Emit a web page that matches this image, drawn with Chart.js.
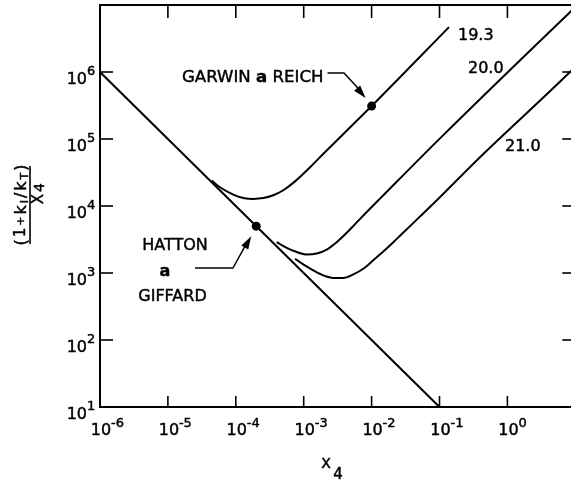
<!DOCTYPE html>
<html><head><meta charset="utf-8">
<script src="https://cdn.jsdelivr.net/npm/chart.js@4/dist/chart.umd.min.js"></script>
<style>
html,body{margin:0;padding:0;background:#fff;overflow:hidden;width:571px;height:481px}
canvas{display:block}
</style></head>
<body>
<canvas id="c" width="580" height="481" style="width:580px;height:481px"></canvas>
<script>
// ---- data ----
const xTickValues = [1e-6, 1e-5, 1e-4, 1e-3, 1e-2, 1e-1, 1e0, 1e1];
const yTickValues = [1e1, 1e2, 1e3, 1e4, 1e5, 1e6, 1e7];
const xLabelValues = [1e-6, 1e-5, 1e-4, 1e-3, 1e-2, 1e-1, 1e0];
const xLabelExps = ["-6", "-5", "-4", "-3", "-2", "-1", "0"];
const yLabelValues = [1e1, 1e2, 1e3, 1e4, 1e5, 1e6];
const yLabelExps = ["1", "2", "3", "4", "5", "6"];

// diagonal line
const diagX = [1e-6, 1e-1];
const diagY = [1e6, 1e1];

// curve labelled 19.3
const c193X = [4.42e-5, 5.85e-5, 9.18e-5, 1.288e-4, 1.811e-4, 2.54e-4, 3.565e-4, 5.0e-4, 7.01e-4, 9.86e-4, 1.239e-3, 2.0e-3, 1e-2, 1.38e-1];
const c193Y = [2.39e4, 1.905e4, 1.479e4, 1.321e4, 1.276e4, 1.312e4, 1.445e4, 1.718e4, 2.213e4, 3.02e4, 3.78e4, 6.17e4, 3.1e5, 4.68e6];

// curve labelled 20.0
const c200X = [4.0e-4, 5.62e-4, 7.89e-4, 1.107e-3, 1.552e-3, 2.183e-3, 3.06e-3, 4.30e-3, 5.70e-3, 7.94e-3, 1.33e-2, 1.016e-1, 8.65, 10];
const c200Y = [2.89e3, 2.377e3, 2.056e3, 1.892e3, 1.95e3, 2.24e3, 2.88e3, 3.98e3, 5.37e3, 7.59e3, 1.288e4, 1.023e5, 8.09e6, 9.3e6];

// curve labelled 21.0
const c210X = [7.45e-4, 9.86e-4, 1.384e-3, 1.941e-3, 2.729e-3, 3.83e-3, 5.37e-3, 7.55e-3, 1.059e-2, 1.486e-2, 2.09e-2, 2.62e-2, 5.0e-2, 8.59e-2, 3.53e-1, 8.65, 10];
const c210Y = [1.633e3, 1.343e3, 1.094e3, 920, 843, 843, 953, 1.159e3, 1.549e3, 2.09e3, 2.88e3, 3.59e3, 6.76e3, 1.148e4, 4.79e4, 1.035e6, 1.2e6];

// marked experimental points
const ptGarwin = [1e-2, 3.1e5];
const ptHatton = [2.0e-4, 5.0e3];

const curveLabels = ["19.3", "20.0", "21.0"];

// ---- build ----
const pairs = (xs, ys) => xs.map((v, i) => ({x: v, y: ys[i]}));
const FONT = '"DejaVu Sans", sans-serif';

function txt(ctx, s, x, midY, size, align, weight) {
  ctx.font = (weight || 'normal') + ' ' + size + 'px ' + FONT;
  ctx.textAlign = align || 'left';
  ctx.textBaseline = 'alphabetic';
  ctx.lineWidth = 0.45;
  ctx.lineJoin = 'round';
  ctx.fillText(s, x, midY + 0.36 * size);
  ctx.strokeText(s, x, midY + 0.36 * size);
  return ctx.measureText(s).width;
}
function seg(ctx, pts, w) {
  ctx.lineWidth = w;
  ctx.beginPath();
  ctx.moveTo(pts[0][0], pts[0][1]);
  for (let i = 1; i < pts.length; i++) ctx.lineTo(pts[i][0], pts[i][1]);
  ctx.stroke();
}
function head(ctx, x0, y0, x1, y1, len, wid) {
  const a = Math.atan2(y1 - y0, x1 - x0);
  const bx = x1 - len * Math.cos(a), by = y1 - len * Math.sin(a);
  const px = -Math.sin(a) * wid / 2, py = Math.cos(a) * wid / 2;
  ctx.beginPath();
  ctx.moveTo(x1, y1);
  ctx.lineTo(bx + px, by + py);
  ctx.lineTo(bx - px, by - py);
  ctx.closePath();
  ctx.fill();
}

const decor = {
  id: 'decor',
  afterDatasetsDraw(chart) {
    const {ctx, chartArea: a, scales: {x, y}} = chart;
    ctx.save();
    ctx.strokeStyle = '#000';
    ctx.fillStyle = '#000';
    ctx.lineCap = 'butt';
    // frame
    ctx.lineWidth = 2;
    ctx.strokeRect(a.left, a.top, a.right - a.left, a.bottom - a.top);
    // inward ticks
    xTickValues.forEach(v => {
      const px = x.getPixelForValue(v);
      seg(ctx, [[px, a.bottom], [px, a.bottom - 11]], 1.6);
      seg(ctx, [[px, a.top], [px, a.top + 13]], 1.6);
    });
    yTickValues.forEach(v => {
      const py = y.getPixelForValue(v);
      seg(ctx, [[a.left, py], [a.left + 13, py]], 1.6);
      seg(ctx, [[a.right, py], [a.right - 13, py]], 1.6);
    });
    // tick labels
    xLabelValues.forEach((v, i) => {
      const px = x.getPixelForValue(v);
      txt(ctx, "10", px + 1, a.bottom + 22, 16, 'center');
      txt(ctx, xLabelExps[i], px + 11, a.bottom + 15, 13, 'left');
    });
    yLabelValues.forEach((v, i) => {
      const py = y.getPixelForValue(v);
      txt(ctx, "10", a.left - 13, py + 6, 16, 'right');
      txt(ctx, yLabelExps[i], a.left - 13, py - 1.5, 13, 'left');
    });
    // x title
    txt(ctx, "X", 326, 463, 14, 'center');
    txt(ctx, "4", 338, 474, 15, 'center');
    // y title (rotated fraction)
    ctx.save();
    ctx.translate(30, 205);
    ctx.rotate(-Math.PI / 2);
    const runs = [["(", 16, 0], ["1", 15, 0], ["+", 11, 0], ["k", 16, 0], ["I", 11, 4], ["/", 16, 0], ["k", 16, 0], ["T", 11, 4], [")", 16, 0]];
    const gap = 2;
    let total = 0;
    runs.forEach(r => { ctx.font = r[1] + 'px ' + FONT; total += ctx.measureText(r[0]).width + gap; });
    total -= gap;
    let cx = -total / 2;
    runs.forEach(r => { cx += txt(ctx, r[0], cx, -10 + r[2], r[1], 'left') + gap; });
    seg(ctx, [[-39, 0], [39, 0]], 1.6);
    txt(ctx, "X", 6, 8, 15, 'center');
    txt(ctx, "4", 17.5, 9, 14, 'center');
    ctx.restore();
    // curve labels
    txt(ctx, curveLabels[0], 458, 34, 16, 'left');
    txt(ctx, curveLabels[1], 468, 67.5, 16, 'left');
    txt(ctx, curveLabels[2], 505, 145, 16, 'left');
    // GARWIN & REICH annotation
    let gx = 182;
    gx += txt(ctx, "GARWIN ", gx, 76, 16.6, 'left');
    gx += txt(ctx, "a", gx, 76, 16.6, 'left', 'bold');
    gx += txt(ctx, " REICH", gx, 76, 16.6, 'left');
    const gd = [x.getPixelForValue(ptGarwin[0]), y.getPixelForValue(ptGarwin[1])];
    const gt = [gd[0] - 6, gd[1] - 8];
    seg(ctx, [[gx + 4, 73], [344, 73], [gt[0] - 4, gt[1] - 6]], 1.5);
    head(ctx, 344, 73, gt[0], gt[1], 13, 8);
    // HATTON & GIFFARD annotation
    txt(ctx, "HATTON", 175, 244.5, 16, 'center');
    txt(ctx, "a", 165, 270, 16, 'center', 'bold');
    txt(ctx, "GIFFARD", 172.5, 295.5, 16, 'center');
    const hd = [x.getPixelForValue(ptHatton[0]), y.getPixelForValue(ptHatton[1])];
    const ht = [hd[0] - 5, hd[1] + 10];
    seg(ctx, [[195, 268], [233, 268], [ht[0] - 4, ht[1] + 6]], 1.5);
    head(ctx, 233, 268, ht[0], ht[1], 13, 8);
    ctx.restore();
  }
};

const lineStyle = {showLine: true, borderColor: '#000', borderWidth: 2, pointRadius: 0, fill: false};

new Chart(document.getElementById('c'), {
  type: 'scatter',
  data: {
    datasets: [
      Object.assign({label: 'diag', data: pairs(diagX, diagY)}, lineStyle),
      Object.assign({label: '19.3', data: pairs(c193X, c193Y), cubicInterpolationMode: 'monotone'}, lineStyle),
      Object.assign({label: '20.0', data: pairs(c200X, c200Y), cubicInterpolationMode: 'monotone'}, lineStyle),
      Object.assign({label: '21.0', data: pairs(c210X, c210Y), cubicInterpolationMode: 'monotone'}, lineStyle),
      {label: 'points', data: [{x: ptGarwin[0], y: ptGarwin[1]}, {x: ptHatton[0], y: ptHatton[1]}],
       showLine: false, pointRadius: 4.5, pointBackgroundColor: '#000', pointBorderColor: '#000', pointBorderWidth: 0}
    ]
  },
  options: {
    responsive: false,
    animation: false,
    devicePixelRatio: 1,
    layout: {padding: {left: 100, right: 4.7, top: 5, bottom: 74}},
    plugins: {legend: {display: false}, tooltip: {enabled: false}},
    scales: {
      x: {type: 'logarithmic', min: 1e-6, max: 1e1, display: false},
      y: {type: 'logarithmic', min: 1e1, max: 1e7, display: false}
    }
  },
  plugins: [decor]
});
</script>
</body></html>
